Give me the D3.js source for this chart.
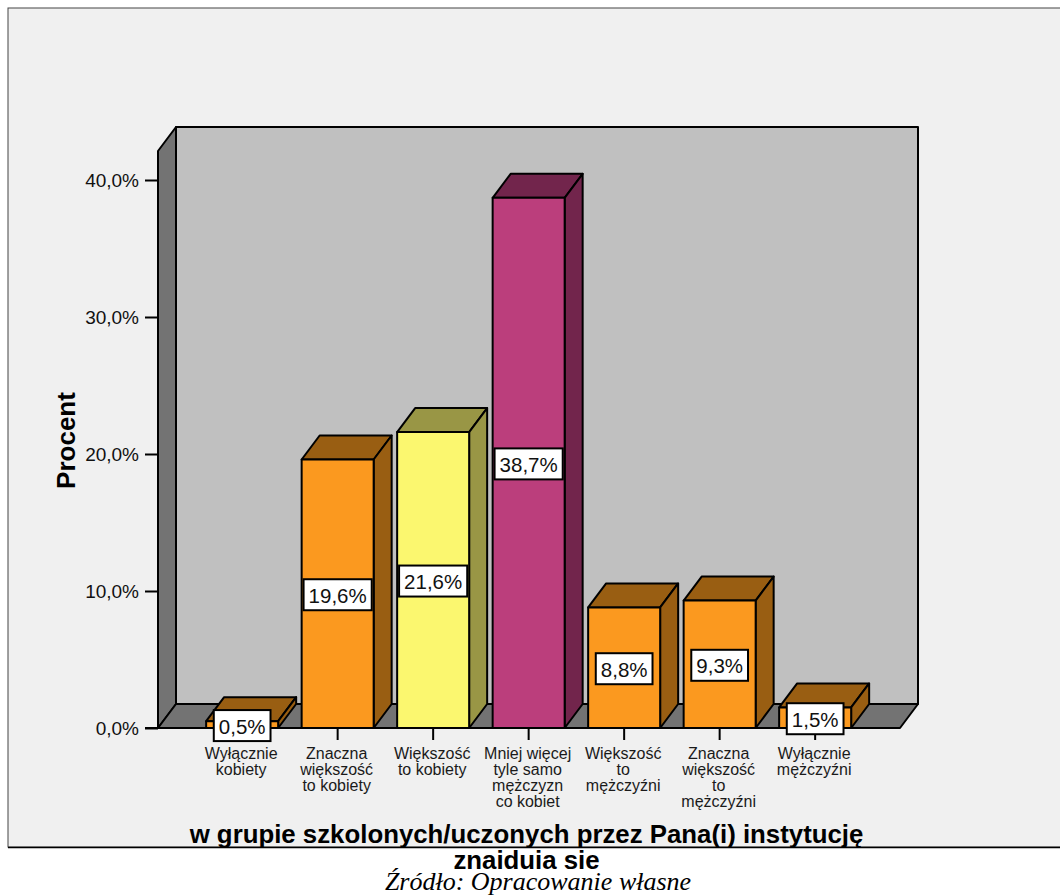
<!DOCTYPE html>
<html>
<head>
<meta charset="utf-8">
<script src="https://d3js.org/d3.v7.min.js"></script>
<style>
html, body { margin: 0; padding: 0; background: #fff; }
svg { display: block; }
</style>
</head>
<body>
<svg id="chart"></svg>
<script>
var categories = [
    ["Wyłącznie", "kobiety"],
    ["Znaczna", "większość", "to kobiety"],
    ["Większość", "to kobiety"],
    ["Mniej więcej", "tyle samo", "mężczyzn", "co kobiet"],
    ["Większość", "to", "mężczyźni"],
    ["Znaczna", "większość", "to", "mężczyźni"],
    ["Wyłącznie", "mężczyźni"]
];
var percents    = [0.5, 19.6, 21.6, 38.7, 8.8, 9.3, 1.5];
var colorGroup  = ["orange", "orange", "yellow", "magenta", "orange", "orange", "orange"];
var yTicks      = [0, 10, 20, 30, 40];
var titleLines  = ["w grupie szkolonych/uczonych przez Pana(i) instytucję", "znaiduia sie"];
var sourceText  = "Źródło: Opracowanie własne";

var width  = 1060;
var height = 895;

var front = { "orange": "#fb991f", "yellow": "#fbf76f", "magenta": "#bb3e7c" };
var shade = { "orange": "#995e12", "yellow": "#999645", "magenta": "#72254c" };

var dx = 18;    // depth of the 3d box
var dy = -24;

var svg = d3.select("#chart").attr("width", width).attr("height", height);

var x = d3.scaleBand()
    .domain(d3.range(categories.length))
    .range([194.4, 862.9])
    .paddingInner(0.246)
    .paddingOuter(0.123);

var y = d3.scaleLinear().domain([0, 40]).range([728, 180]);

var left   = 158;
var right  = 900;
var bottom = y(0);
var top3d  = 151;

function poly(points) {
    return points.map(function(p) { return p.join(","); }).join(" ");
}

// frame
svg.append("rect")
    .attr("x", 8).attr("y", 8)
    .attr("width", width).attr("height", 839)
    .attr("fill", "#f0f0f0")
    .attr("stroke", "#444").attr("stroke-width", 1);
svg.append("line")
    .attr("x1", 8).attr("x2", width)
    .attr("y1", 847.5).attr("y2", 847.5)
    .attr("stroke", "#000").attr("stroke-width", 1.5);

// back wall, side wall, floor
var walls = svg.append("g")
    .attr("stroke", "#000").attr("stroke-width", 2).attr("stroke-linejoin", "round");

walls.append("polygon")
    .attr("points", poly([[left + dx, top3d + dy], [right + dx, top3d + dy], [right + dx, bottom + dy], [left + dx, bottom + dy]]))
    .attr("fill", "#c0c0c0");
walls.append("polygon")
    .attr("points", poly([[left, top3d], [left + dx, top3d + dy], [left + dx, bottom + dy], [left, bottom]]))
    .attr("fill", "#737373");
walls.append("polygon")
    .attr("points", poly([[left, bottom], [left + dx, bottom + dy], [right + dx, bottom + dy], [right, bottom]]))
    .attr("fill", "#737373");

// y axis
var yAxis = d3.axisLeft(y)
    .tickValues(yTicks)
    .tickSize(13)
    .tickPadding(6)
    .tickFormat(function(d) { return d3.format(".1f")(d).replace(".", ",") + "%"; });

var yG = svg.append("g").attr("transform", "translate(" + left + ",0)").call(yAxis);
yG.select(".domain").remove();
yG.selectAll(".tick line").attr("stroke", "#000").attr("stroke-width", 2);
yG.selectAll(".tick text")
    .attr("fill", "#111")
    .style("font", "19px 'Liberation Sans', Arial, sans-serif");

// x axis ticks + wrapped labels
var xAxis = d3.axisBottom(x).tickSize(12).tickFormat("");
var xG = svg.append("g").attr("transform", "translate(0," + bottom + ")").call(xAxis);
xG.select(".domain").remove();
xG.selectAll(".tick line").attr("stroke", "#000").attr("stroke-width", 2);

var catLabels = svg.append("g")
    .attr("text-anchor", "middle")
    .style("font", "16px 'Liberation Sans', Arial, sans-serif")
    .attr("fill", "#1a1a1a");

categories.forEach(function(lines, i) {
    lines.forEach(function(line, j) {
        catLabels.append("text")
            .attr("x", x(i) + x.bandwidth() / 2 - 1)
            .attr("y", 759 + j * 16)
            .text(line);
    });
});

// baseline across the front of the floor
svg.append("line")
    .attr("x1", left - 13).attr("x2", right)
    .attr("y1", bottom).attr("y2", bottom)
    .attr("stroke", "#000").attr("stroke-width", 2);

// bars
var bars = svg.append("g")
    .attr("stroke", "#000").attr("stroke-width", 2).attr("stroke-linejoin", "round");

percents.forEach(function(v, i) {
    var x0 = x(i);
    var x1 = x(i) + x.bandwidth();
    var yt = y(v);
    var g  = colorGroup[i];

    bars.append("polygon")
        .attr("points", poly([[x0, yt], [x0 + dx, yt + dy], [x1 + dx, yt + dy], [x1, yt]]))
        .attr("fill", shade[g]);
    bars.append("polygon")
        .attr("points", poly([[x1, yt], [x1 + dx, yt + dy], [x1 + dx, bottom + dy], [x1, bottom]]))
        .attr("fill", shade[g]);
    bars.append("rect")
        .attr("x", x0).attr("y", yt)
        .attr("width", x.bandwidth()).attr("height", bottom - yt)
        .attr("fill", front[g]);
});

// value labels, centred on the front of each bar
var boxes = svg.append("g");
percents.forEach(function(v, i) {
    var cx = x(i) + x.bandwidth() / 2;
    var cy = (y(v) + bottom) / 2 + 1;
    var label = d3.format(".1f")(v).replace(".", ",") + "%";

    var t = boxes.append("text")
        .attr("x", cx)
        .attr("y", cy + 8)
        .attr("text-anchor", "middle")
        .attr("fill", "#111")
        .style("font", "20.5px 'Liberation Sans', Arial, sans-serif")
        .text(label);

    var w = t.node().getComputedTextLength() + 10;
    boxes.insert("rect", "text")
        .attr("x", cx - w / 2).attr("y", cy - 15.5)
        .attr("width", w).attr("height", 31)
        .attr("fill", "#fff")
        .attr("stroke", "#000").attr("stroke-width", 2);
});

// axis titles
svg.append("text")
    .attr("transform", "translate(75,440.5) rotate(-90)")
    .attr("text-anchor", "middle")
    .style("font", "bold 26px 'Liberation Sans', Arial, sans-serif")
    .text("Procent");

svg.selectAll(".title")
    .data(titleLines)
    .enter().append("text")
    .attr("class", "title")
    .attr("x", 526.5)
    .attr("y", function(d, i) { return 843 + i * 26; })
    .attr("text-anchor", "middle")
    .style("font", "bold 25.8px 'Liberation Sans', Arial, sans-serif")
    .text(function(d) { return d; });

svg.append("text")
    .attr("x", 538)
    .attr("y", 889.5)
    .attr("text-anchor", "middle")
    .style("font", "italic 26px 'Liberation Serif', 'Times New Roman', serif")
    .text(sourceText);
</script>
</body>
</html>
